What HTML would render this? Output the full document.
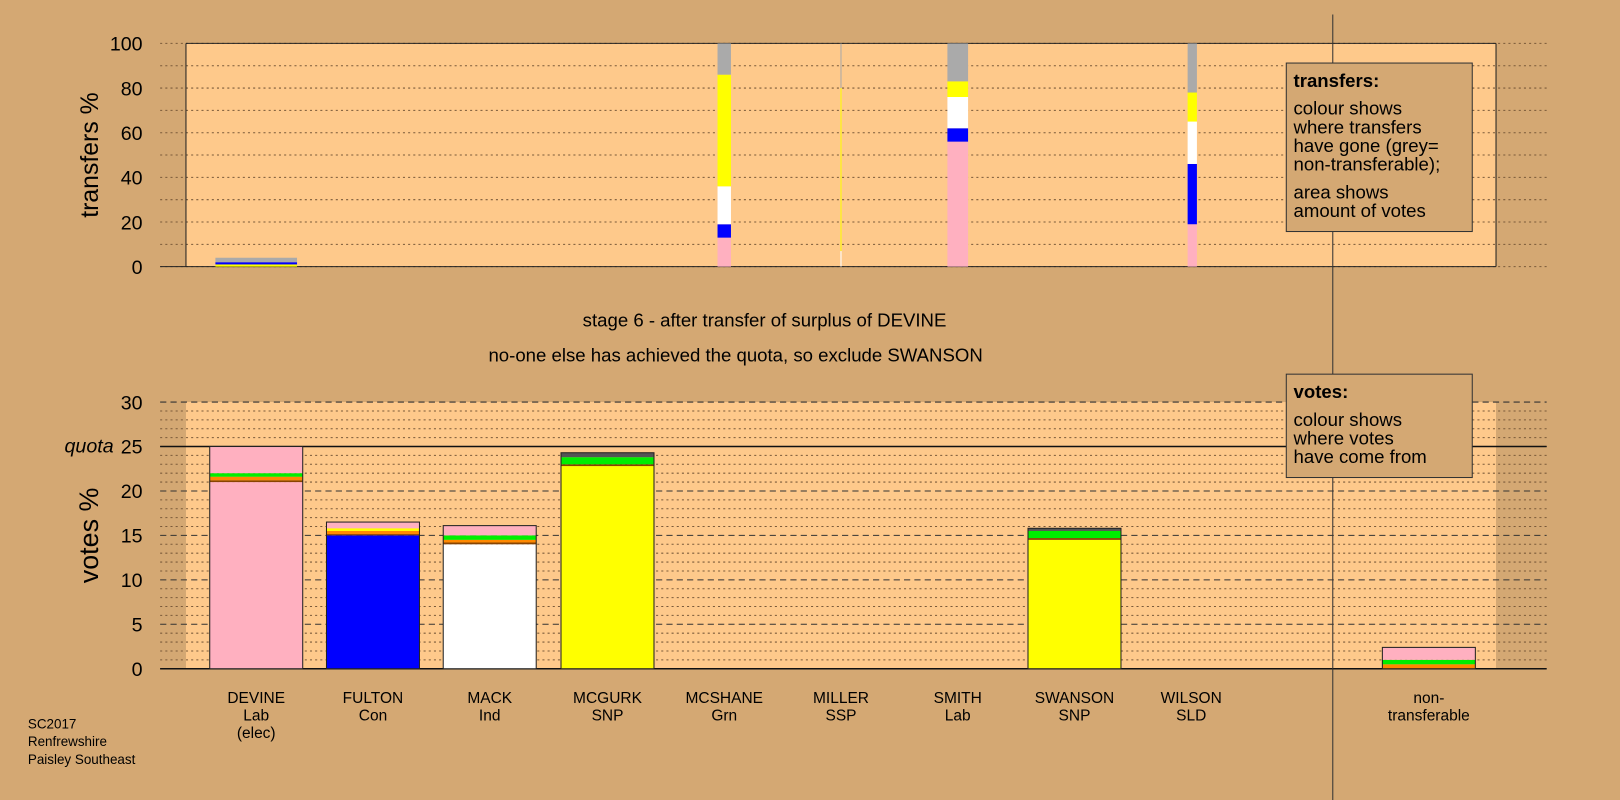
<!DOCTYPE html>
<html><head><meta charset="utf-8"><style>
body{margin:0;background:#d4a873;font-family:"Liberation Sans",sans-serif}
svg{display:block}
</style></head><body>
<svg id="c" width="1620" height="800" viewBox="0 0 1568 774" preserveAspectRatio="none" xmlns="http://www.w3.org/2000/svg" font-family="Liberation Sans, sans-serif">
<rect width="1568" height="774" fill="#d4a873"/>
<rect x="180" y="42" width="1268" height="216" fill="#fec98b"/>
<rect x="180" y="389" width="1268" height="258" fill="#fec98b"/>
<g id="grid"></g>
<g id="marks"></g>
<line x1="1290" y1="14" x2="1290" y2="774" stroke="#333" stroke-width="1"/>
<text x="95" y="150" font-size="24" transform="rotate(-90 95 150)" text-anchor="middle">transfers %</text>
<text x="95" y="518" font-size="26" transform="rotate(-90 95 518)" text-anchor="middle">votes %</text>
<text x="740" y="316" font-size="18" text-anchor="middle">stage 6 - after transfer of surplus of DEVINE</text>
<text x="712" y="350" font-size="18" text-anchor="middle">no-one else has achieved the quota, so exclude SWANSON</text>
<text x="110" y="438" font-size="19" font-style="italic" text-anchor="end">quota</text>
<g>
<rect x="1245" y="61" width="180" height="163" fill="#d4a873" stroke="#333"/>
<text x="1252" y="84" font-size="18" font-weight="bold">transfers:</text>
<text font-size="18"><tspan x="1252" y="111">colour shows</tspan><tspan x="1252" y="129">where transfers</tspan><tspan x="1252" y="147">have gone (grey=</tspan><tspan x="1252" y="165">non-transferable);</tspan><tspan x="1252" y="192">area shows</tspan><tspan x="1252" y="210">amount of votes</tspan></text>
</g>
<g>
<rect x="1245" y="362" width="180" height="100" fill="#d4a873" stroke="#333"/>
<text x="1252" y="385" font-size="18" font-weight="bold">votes:</text>
<text font-size="18"><tspan x="1252" y="412">colour shows</tspan><tspan x="1252" y="430">where votes</tspan><tspan x="1252" y="448">have come from</tspan></text>
</g>
<text font-size="13"><tspan x="27" y="705">SC2017</tspan><tspan x="27" y="722">Renfrewshire</tspan><tspan x="27" y="739">Paisley Southeast</tspan></text>
<g id="labels"></g>
</svg>
<script>
const NS="http://www.w3.org/2000/svg";
const candidates=["DEVINE","FULTON","MACK","MCGURK","MCSHANE","MILLER","SMITH","SWANSON","WILSON","non-"];
const parties=["Lab","Con","Ind","SNP","Grn","SSP","Lab","SNP","SLD","transferable"];
const extra=["(elec)","","","","","","","","",""];
const centers=[248,361,474,588,701,814,927,1040,1153,1383];
const colours=["#ffb0c0","#0000ff","#ffffff","#ffff00","#00ee00","#ff8800","#555555","#aaaaaa","#884400"];
const voteStacks=[
 [[0,21],[8,0.2],[5,0.4],[4,0.4],[0,3]],
 [[1,15],[8,0.15],[5,0.35],[3,0.3],[0,0.7]],
 [[2,14],[8,0.2],[5,0.3],[4,0.5],[0,1.1]],
 [[3,22.8],[8,0.2],[4,0.8],[6,0.5]],
 [],[],[],
 [[3,14.5],[8,0.2],[4,0.8],[6,0.3]],
 [],
 [[5,0.5],[4,0.5],[0,1.4]]
];
const voteTicks=[0,5,10,15,20,25,30];
const quota=25;
const transferCands=[0,4,5,6,7];
const transferWidths=[79,13,1,20,9];
const transferStacks=[
 [[3,0,1],[1,1,2],[7,2,4]],
 [[0,0,13],[1,13,19],[2,19,36],[3,36,86],[7,86,100]],
 [[2,0,7],[3,7,80],[7,80,100]],
 [[0,0,56],[1,56,62],[2,62,76],[3,76,83],[7,83,100]],
 [[0,0,19],[1,19,46],[2,46,65],[3,65,78],[7,78,100]]
];
const transferTicks=[0,20,40,60,80,100];
const transferCentersX=[248,701,814,927,1154];

const yT=v=>258-v*2.16;
const yV=v=>647-v*(258/30);
const grid=document.getElementById('grid'),marks=document.getElementById('marks'),labels=document.getElementById('labels');
function el(t,a,p){const e=document.createElementNS(NS,t);for(const k in a)e.setAttribute(k,a[k]);p.appendChild(e);return e;}
for(let v=0;v<=100;v+=10){
 const g=el('line',{x1:155,x2:1497,y1:yT(v),y2:yT(v),stroke:'#7a5a3a','stroke-width':1,'stroke-dasharray':'2,3'},grid);
 
 
}
transferTicks.forEach(v=>{
 const t=el('text',{x:138,y:yT(v)+7,'font-size':19,'text-anchor':'end'},grid);t.textContent=v;
 
 
});
el('line',{x1:180,x2:1448,y1:42,y2:42,stroke:'#222'},grid);
el('line',{x1:155,x2:1448,y1:258,y2:258,stroke:'#222'},grid);
el('line',{x1:180,x2:180,y1:42,y2:258,stroke:'#222'},grid);
el('line',{x1:1448,x2:1448,y1:42,y2:258,stroke:'#222'},grid);
for(let v=0;v<=30;v+=1){
 const major=v%5===0;
 const g=el('line',{x1:155,x2:1497,y1:yV(v),y2:yV(v),stroke:major?'#333':'#7a5a3a','stroke-width':1,'stroke-dasharray':major?'6,4':'2,3'},grid);
 
 
}
voteTicks.forEach(v=>{
 const t=el('text',{x:138,y:yV(v)+7,'font-size':19,'text-anchor':'end'},grid);t.textContent=v;
 
 
});
const q=el('line',{x1:155,x2:1497,y1:yV(quota),y2:yV(quota),stroke:'#111','stroke-width':1.5},grid);


el('line',{x1:155,x2:1497,y1:647,y2:647,stroke:'#111','stroke-width':1.5},grid);
transferStacks.forEach((st,i)=>{
 const w=transferWidths[i],cx=transferCentersX[i];
 st.forEach(s=>{
  const r=el('rect',{x:cx-w/2,y:yT(s[2]),width:w,height:yT(s[1])-yT(s[2]),fill:colours[s[0]]},marks);
  
  
 });
});
voteStacks.forEach((st,i)=>{
 const cx=centers[i];
 let acc=0;
 st.forEach(s=>{
  const r=el('rect',{x:cx-45,y:yV(acc+s[1]),width:90,height:yV(acc)-yV(acc+s[1]),fill:colours[s[0]]},marks);
  
  
  acc+=s[1];
 });
 if(acc>0){
  const o=el('rect',{x:cx-45,y:yV(acc),width:90,height:yV(0)-yV(acc),fill:'none',stroke:'#222','stroke-width':1},marks);
  
  
 }
});
candidates.forEach((c,i)=>{
 const cx=centers[i];
 const t=el('text',{'font-size':15,'text-anchor':'middle'},labels);
 
 
 [c,parties[i],extra[i]].forEach((s,k)=>{if(s){const ts=el('tspan',{x:cx,y:680+k*17},t);ts.textContent=s;}});
});
</script>
</body></html>
